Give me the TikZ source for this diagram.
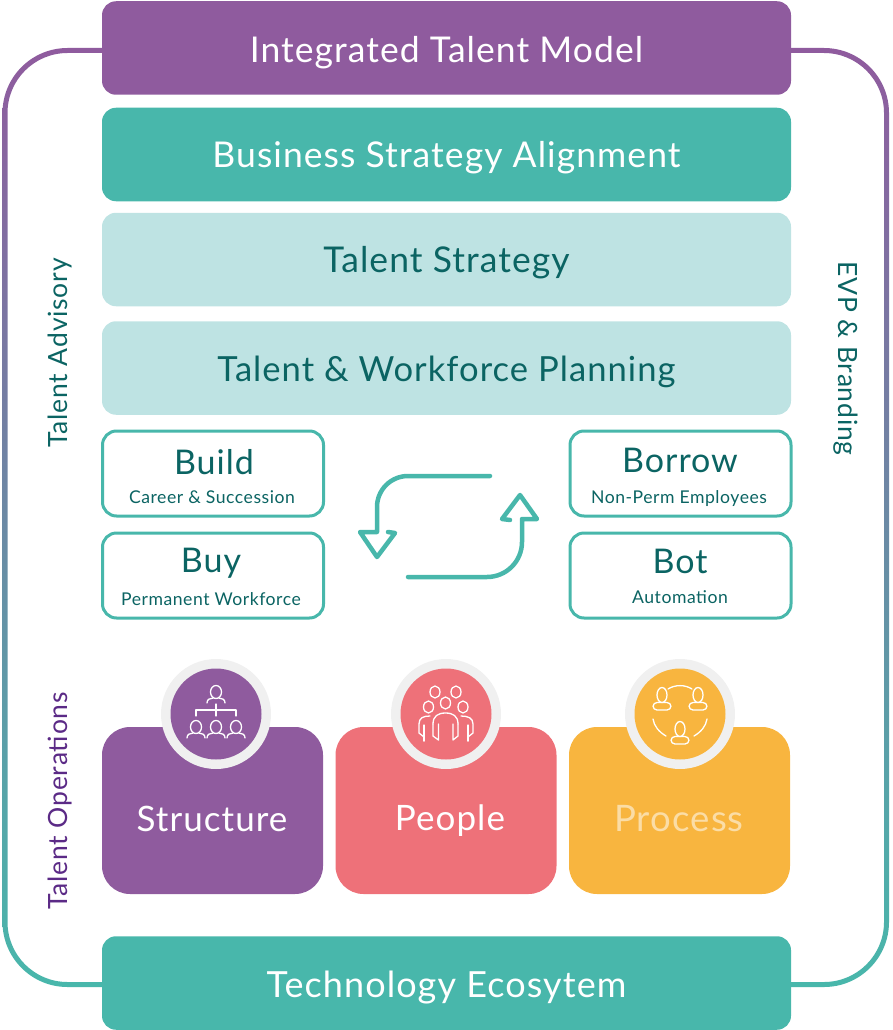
\documentclass[tikz,border=0pt]{standalone}
\usepackage{fontspec}
\setmainfont[LetterSpace=3]{Lato}
\definecolor{cpurple}{HTML}{8F5B9E}
\definecolor{cteal}{HTML}{48B7AB}
\definecolor{clight}{HTML}{BEE3E3}
\definecolor{cdark}{HTML}{0B6463}
\definecolor{ccoral}{HTML}{EE7179}
\definecolor{cyellow}{HTML}{F8B53F}
\definecolor{cpale}{HTML}{FBDDA6}
\definecolor{cring}{HTML}{F0F0F0}
\definecolor{cdpurple}{HTML}{5B2A86}
\newcommand{\lowertext}[2]{\raisebox{-#1pt}[\height][\depth]{#2}}
\tikzset{
  band/.style={rectangle,rounded corners=14pt,minimum width=689pt,minimum height=93.5pt,inner sep=0pt,outer sep=0pt,font=\fontsize{35.5}{38}\selectfont},
  optbox/.style={rectangle,rounded corners=14pt,draw=cteal,line width=3pt,fill=white,minimum width=221pt,minimum height=85pt,inner sep=0pt,outer sep=0pt},
  bigtitle/.style={text=cdark,font=\fontsize{34}{38}\selectfont,inner sep=0pt},
  subtitle/.style={text=cdark,font=\fontsize{17.6}{20}\selectfont,inner sep=0pt},
  pillar/.style={rectangle,rounded corners=28pt,minimum width=221pt,minimum height=167pt,inner sep=0pt,outer sep=0pt},
  pillartext/.style={inner sep=0pt,font=\fontsize{35}{38}\selectfont},
  ringc/.style={circle,fill=cring,minimum size=110pt,inner sep=0pt,outer sep=0pt},
  discc/.style={circle,minimum size=91pt,inner sep=0pt,outer sep=0pt},
  sidetext/.style={inner sep=0pt,font=\fontsize{26.5}{30}\selectfont},
  flow/.style={cteal,line width=4.5pt,line cap=round,line join=round},
  ico/.style={white,line width=1.3pt,line cap=round,line join=round},
  pics/orgperson/.style={code={
    \draw[ico] (0,0) ellipse[x radius=5.5pt,y radius=6.5pt];
    \draw[ico] (-9,11) .. controls (-9,7) and (-6,6.5) .. (-3,6);
    \draw[ico] (9,11) .. controls (9,7) and (6,6.5) .. (3,6);}},
  pics/teamperson/.style={code={
    \draw[ico] (0,-7) ellipse[x radius=5pt,y radius=7.5pt];
    \draw[ico,rounded corners=4pt] (-9,0.5) rectangle (9,8);}}
}
\begin{document}
\begin{tikzpicture}[x=1pt,y=-1pt]
\useasboundingbox (0,0) rectangle (892,1030);
% outer frame, purple at the top fading to teal at the bottom
\shade[top color=cpurple,bottom color=cteal,even odd rule]
  (2.5,113) arc[start angle=180,end angle=90,radius=65pt] -- (824,48) arc[start angle=90,end angle=0,radius=65pt] -- (889,922) arc[start angle=0,end angle=-90,radius=65pt] -- (67.5,987) arc[start angle=-90,end angle=-180,radius=65pt] -- cycle
  (7.5,113) -- (7.5,922) arc[start angle=180,end angle=270,radius=60pt] -- (824,982) arc[start angle=270,end angle=360,radius=60pt] -- (884,113) arc[start angle=0,end angle=90,radius=60pt] -- (67.5,53) arc[start angle=90,end angle=180,radius=60pt] -- cycle;
% bands
\node[band,fill=cpurple,text=white] (model) at (446.5,48) {\lowertext{5}{Integrated Talent Model}};
\node[band,fill=cteal,text=white] (align) at (446.5,154.5) {\lowertext{3.5}{Business Strategy Alignment}};
\node[band,fill=clight,text=cdark] (strategy) at (446.5,259.5) {\lowertext{3}{Talent Strategy}};
\node[band,fill=clight,text=cdark,font=\fontsize{34.6}{38}\selectfont] (planning) at (446.5,368) {\lowertext{4}{Talent \& Workforce Planning}};
\node[band,fill=cteal,text=white,font=\fontsize{36}{38}\selectfont] (tech) at (446.5,983) {\lowertext{5}{Technology Ecosytem}};
% side labels
\node[sidetext,text=cdark,rotate=90] (advisory) at (60,353) {Talent Advisory};
\node[sidetext,text=cdpurple,rotate=90] (ops) at (60,801) {Talent Operations};
\node[sidetext,text=cdark,rotate=-90] (evp) at (846,358.5) {EVP \& Branding};
% option boxes
\node[optbox] (build) at (213,473.5) {};
\node[optbox] (buy) at (213,575.5) {};
\node[optbox] (borrow) at (680.5,473.5) {};
\node[optbox] (bot) at (680.5,575.5) {};
\node[bigtitle] (buildt) at (214,462) {Build};
\node[subtitle] (builds) at (212,497.5) {Career \& Succession};
\node[bigtitle] (buyt) at (211,563) {Buy};
\node[subtitle] (buys) at (211,599) {Permanent Workforce};
\node[bigtitle] (borrowt) at (680,460) {Borrow};
\node[subtitle] (borrows) at (679,499) {Non-Perm Employees};
\node[bigtitle] (bott) at (680,561) {Bot};
\node[subtitle] (bots) at (680,597) {Automation};
% cycle arrows
\coordinate (a1) at (490,476);
\coordinate (a2) at (377,532);
\coordinate (a3) at (408,577);
\coordinate (a4) at (522,519);
\draw[flow] (a1) -- (408,476) arc[start angle=90,end angle=180,radius=31pt] -- (a2) -- (360,532) -- (377,557) -- (395,533) -- (388,532);
\draw[flow] (a3) -- (487,577) arc[start angle=270,end angle=360,radius=35pt] -- (a4) -- (537,519) -- (520,495) -- (502,519) -- (510,520);
% pillars
\node[pillar,fill=cpurple] (structure) at (212.5,810.5) {};
\node[pillar,fill=ccoral] (people) at (446,810.5) {};
\node[pillar,fill=cyellow] (process) at (679.5,810.5) {};
\node[pillartext,text=white] (structuret) at (212,819) {Structure};
\node[pillartext,text=white] (peoplet) at (450,821) {People};
\node[pillartext,text=cpale,font=\fontsize{36.5}{38}\selectfont] (processt) at (679,819) {Process};
\node[ringc] (r1) at (216,714) {};
\node[ringc] (r2) at (446,714) {};
\node[ringc] (r3) at (680,714) {};
\node[discc,fill=cpurple] (d1) at (216,714) {};
\node[discc,fill=ccoral] (d2) at (446,714) {};
\node[discc,fill=cyellow] (d3) at (680,714) {};
% structure icon
\pic at (216,692) {orgperson};
\pic at (196,727) {orgperson};
\pic at (216,727) {orgperson};
\pic at (236,727) {orgperson};
\draw[ico] (216,704) -- (216,716);
\draw[ico] (196,716) -- (196,710) -- (236,710) -- (236,716);
% people icon
\draw[ico] (435,692) ellipse[x radius=5pt,y radius=6pt];
\draw[ico] (456,692) ellipse[x radius=5pt,y radius=6pt];
\draw[ico] (428.5,707) ellipse[x radius=5pt,y radius=6pt];
\draw[ico] (445.5,703) ellipse[x radius=5pt,y radius=6pt];
\draw[ico] (463,707) ellipse[x radius=5pt,y radius=6pt];
\draw[ico] (433,724) .. controls (433,716) and (438,713) .. (445.5,713) .. controls (453,713) and (458,716) .. (458,724);
\draw[ico] (433,724) -- (433,736) -- (438.5,740) -- (438.5,724);
\draw[ico] (458,724) -- (458,736) -- (453,740) -- (453,724);
\draw[ico] (430,716) .. controls (423,716) and (419,718) .. (419,724) -- (419,733) -- (424,737) -- (424,741);
\draw[ico] (424,725) -- (424,741);
\draw[ico] (461,716) .. controls (468,716) and (473,718) .. (473,724) -- (473,733) -- (468,737) -- (468,741);
\draw[ico] (468,725) -- (468,741);
% process icon
\pic at (662,702) {teamperson};
\pic at (698,702) {teamperson};
\pic at (680,736) {teamperson};
\draw[ico] (668,689) .. controls (675,684.5) and (685,684.5) .. (692,689);
\draw[ico] (653,719) .. controls (654,726) and (659,732) .. (666,736);
\draw[ico] (707,719) .. controls (706,726) and (701,732) .. (694,736);
\end{tikzpicture}
\end{document}
